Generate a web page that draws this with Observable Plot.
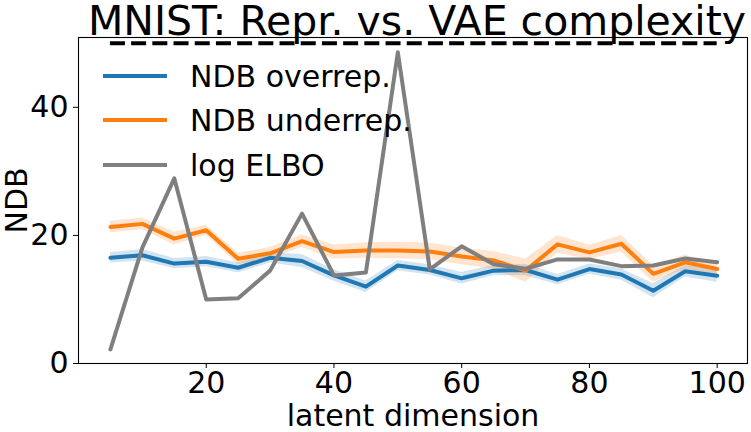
<!DOCTYPE html>
<html>
<head>
<meta charset="utf-8">
<script src="https://cdn.jsdelivr.net/npm/d3@7"></script>
<script src="https://cdn.jsdelivr.net/npm/@observablehq/plot@0.6"></script>
<style>
  html, body { margin: 0; padding: 0; background: #fff; }
  #wrap { position: relative; width: 751px; height: 432px; font-family: "DejaVu Sans", sans-serif; }
  #title { position: absolute; left: 0; top: 1px; width: 751px; text-align: center; font-size: 41px; line-height: 40px; padding-left: 83px; box-sizing: border-box; white-space: nowrap; color: #000; z-index: 2; }
  .leg { position: absolute; left: 103px; height: 40px; display: flex; align-items: center; font-size: 30px; color: #000; z-index: 2; }
  .leg .sw { width: 64px; height: 4px; margin-right: 23px; }
  #chart svg { display: block; }
</style>
</head>
<body>
<div id="wrap">
  <div id="title">MNIST: Repr. vs. VAE complexity</div>
  <div id="legend"></div>
  <div id="chart"></div>
</div>
<script>
const latent = [5,10,15,20,25,30,35,40,45,50,55,60,65,70,75,80,85,90,95,100];
const overrep = [16.5,16.9,15.6,15.9,14.95,16.5,16.0,13.75,12.0,15.3,14.6,13.3,14.5,14.6,13.1,14.75,13.9,11.35,14.4,13.7];
const overrepErr = [0.8,0.9,0.8,0.8,0.8,0.8,1.0,0.9,0.9,0.8,0.8,0.9,0.8,0.9,0.8,0.8,0.9,1.1,0.9,1.0];
const underrep = [21.3,21.8,19.5,20.8,16.35,17.2,19.1,17.4,17.65,17.65,17.5,16.7,16.1,14.5,18.6,17.35,18.7,14.0,15.8,14.75];
const underrepErr = [0.9,0.9,1.0,0.8,0.9,0.9,1.0,1.1,1.2,1.3,1.3,1.3,1.4,1.8,1.4,1.1,1.3,1.3,1.1,0.9];
const logElbo = [2.2,18.1,28.9,10.0,10.2,14.5,23.4,13.75,14.2,48.6,14.7,18.3,15.5,14.8,16.25,16.25,15.2,15.3,16.4,15.8];
const refLevel = [50];
const seriesNames = ["NDB overrep.", "NDB underrep.", "log ELBO"];
const seriesColors = ["#1f77b4", "#ff7f0e", "#7f7f7f"];
const xTicks = [20,40,60,80,100];
const yTicks = [0,20,40];

const over = latent.map((x,i) => ({x, y: overrep[i], lo: overrep[i]-overrepErr[i], hi: overrep[i]+overrepErr[i]}));
const under = latent.map((x,i) => ({x, y: underrep[i], lo: underrep[i]-underrepErr[i], hi: underrep[i]+underrepErr[i]}));
const elbo = latent.map((x,i) => ({x, y: logElbo[i]}));

const xmin = d3.min(latent), xmax = d3.max(latent);

const plot = Plot.plot({
  width: 751,
  height: 432,
  marginLeft: 78,
  marginRight: 4,
  marginTop: 37,
  marginBottom: 69,
  style: {fontFamily: "DejaVu Sans, sans-serif", fontSize: "30px", color: "#000", background: "#fff"},
  x: {domain: [0, xmax + 0.05*(xmax - xmin)]},
  y: {domain: [0, 50.9]},
  marks: [
    Plot.areaY(over, {x: "x", y1: "lo", y2: "hi", fill: seriesColors[0], fillOpacity: 0.2}),
    Plot.areaY(under, {x: "x", y1: "lo", y2: "hi", fill: seriesColors[1], fillOpacity: 0.2}),
    Plot.lineY(over, {x: "x", y: "y", stroke: seriesColors[0], strokeWidth: 4}),
    Plot.lineY(under, {x: "x", y: "y", stroke: seriesColors[1], strokeWidth: 4}),
    Plot.lineY(elbo, {x: "x", y: "y", stroke: seriesColors[2], strokeWidth: 4}),
    Plot.ruleY(refLevel, {x1: xmin, x2: xmax, stroke: "#000", strokeWidth: 4, strokeDasharray: "15,6.2"}),
    Plot.frame({stroke: "#000", strokeWidth: 1.1}),
    Plot.axisX({ticks: xTicks, tickSize: 5, tickPadding: 3, fontSize: 30, label: null, stroke: "#000"}),
    Plot.axisY({ticks: yTicks, tickSize: 5, tickPadding: 5, fontSize: 30, label: null, stroke: "#000"}),
    Plot.text(["latent dimension"], {frameAnchor: "bottom", dy: 53, lineAnchor: "middle", fontSize: 30, fill: "#000"}),
    Plot.text(["NDB"], {frameAnchor: "left", textAnchor: "middle", dx: -61, rotate: -90, fontSize: 30, fill: "#000"})
  ]
});
document.getElementById("chart").appendChild(plot);

const legendTops = [56, 100, 145];
const legend = document.getElementById("legend");
seriesNames.forEach((name, i) => {
  const row = document.createElement("div");
  row.className = "leg";
  row.style.top = legendTops[i] + "px";
  const sw = document.createElement("span");
  sw.className = "sw";
  sw.style.background = seriesColors[i];
  const t = document.createElement("span");
  t.textContent = name;
  row.appendChild(sw);
  row.appendChild(t);
  legend.appendChild(row);
});
</script>
</body>
</html>
